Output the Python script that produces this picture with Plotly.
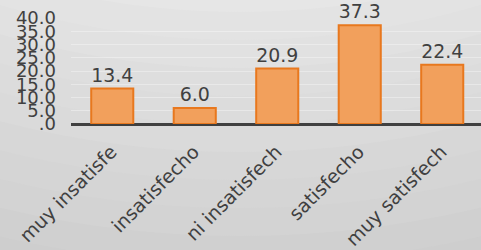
import plotly.graph_objects as go

categories = ["muy insatisfecho", "insatisfecho", "ni insatisfecho ni satisfecho", "satisfecho", "muy satisfecho"]
category_labels = ["muy insatisfe", "insatisfecho", "ni insatisfech", "satisfecho", "muy satisfech"]
values = [13.4, 6.0, 20.9, 37.3, 22.4]
y_tick_values = [0, 5, 10, 15, 20, 25, 30, 35, 40]
y_tick_labels = [".0", "5.0", "10.0", "15.0", "20.0", "25.0", "30.0", "35.0", "40.0"]

FONT = "DejaVu Sans"
TXT = "#404040"

W, H = 481, 250
ML, MR, MT, MB = 71, 0, 18, 126
PW, PH = W - ML - MR, H - MT - MB

def px_to_paper(px, py):
    return (px - ML) / PW, (H - MB - py) / PH

fig = go.Figure()
fig.add_trace(go.Bar(
    x=categories,
    y=values,
    text=[f"{v:.1f}" for v in values],
    textposition="outside",
    textfont=dict(family=FONT, size=19, color=TXT),
    cliponaxis=False,
    marker=dict(color="#F2A05C", line=dict(color="#E8781E", width=2)),
    width=0.51,
    hoverinfo="skip",
))

# background gradient approximation (concentric arcs)
shapes = []
cx, cy = 240, -800
n = 12
for i in range(n):
    r = 1120 - i * 28
    g = int(0xcc + (0xe6 - 0xcc) * i / (n - 1))
    col = f"#{g:02x}{g:02x}{g:02x}"
    x0, y1 = px_to_paper(cx - r, cy - r)
    x1, y0 = px_to_paper(cx + r, cy + r)
    shapes.append(dict(type="circle", xref="paper", yref="paper", x0=x0, x1=x1, y0=y0, y1=y1,
                       fillcolor=col, line=dict(width=0), layer="below"))

fig.update_layout(
    width=W, height=H,
    margin=dict(l=ML, r=MR, t=MT, b=MB),
    paper_bgcolor="#cacaca",
    plot_bgcolor="rgba(0,0,0,0)",
    showlegend=False,
    shapes=shapes,
    xaxis=dict(
        range=[-0.5, 4.47],
        tickmode="array",
        tickvals=categories,
        ticktext=category_labels,
        tickangle=-45,
        tickfont=dict(family=FONT, size=19, color=TXT),
        showgrid=False,
        showline=False,
        ticks="",
        zeroline=False,
        automargin=False,
        ticklabelstandoff=12,
        ticklabelshift=-1,
    ),
    yaxis=dict(
        range=[0, 40],
        tickmode="array",
        tickvals=y_tick_values,
        ticktext=y_tick_labels,
        tickfont=dict(family=FONT, size=18, color=TXT),
        showgrid=True,
        gridcolor="rgba(255,255,255,0.35)",
        gridwidth=1,
        zeroline=True,
        zerolinecolor="#404040",
        zerolinewidth=3,
        showline=False,
        ticks="",
        ticklabelstandoff=14,
        automargin=False,
    ),
)

fig.write_html("out.html", config={"displayModeBar": False},
               post_script="document.body.style.margin='0';document.body.style.overflow='hidden';")
